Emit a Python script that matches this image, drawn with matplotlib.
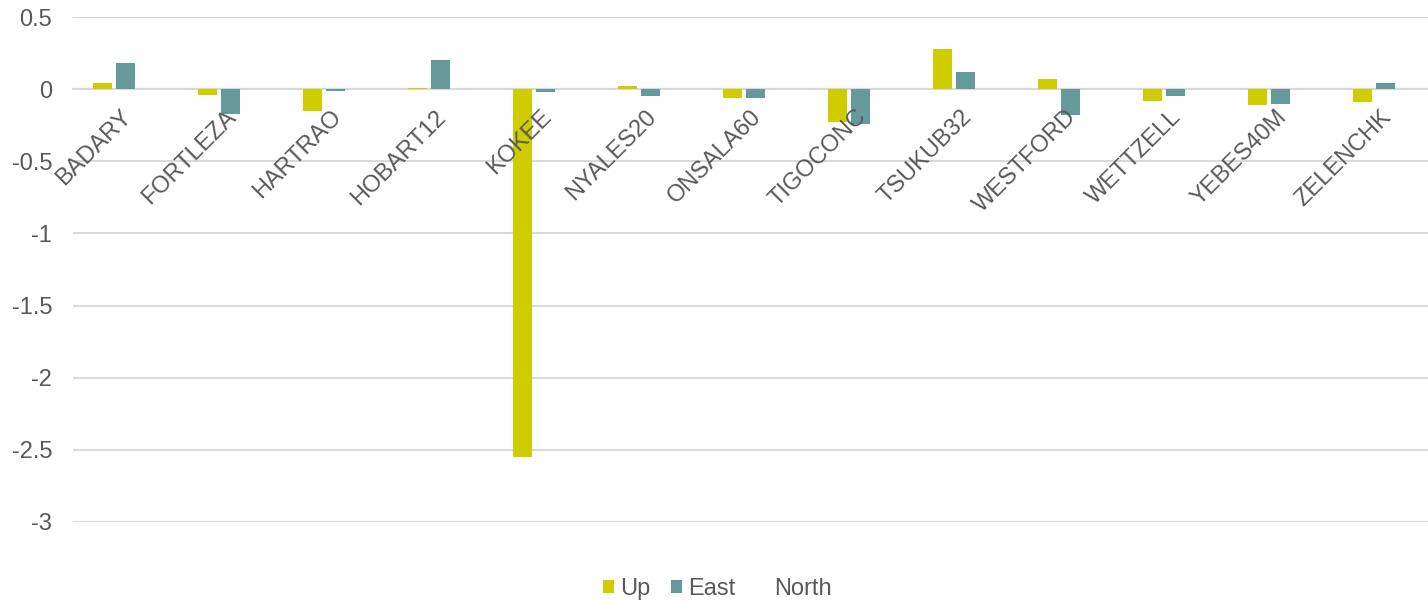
import numpy as np
import matplotlib
matplotlib.use("Agg")
import matplotlib.pyplot as plt

stations = ["BADARY", "FORTLEZA", "HARTRAO", "HOBART12", "KOKEE", "NYALES20",
            "ONSALA60", "TIGOCONC", "TSUKUB32", "WESTFORD", "WETTZELL",
            "YEBES40M", "ZELENCHK"]
up = [0.04, -0.04, -0.15, 0.01, -2.55, 0.02, -0.06, -0.23, 0.28, 0.07, -0.08, -0.11, -0.09]
east = [0.18, -0.17, -0.01, 0.205, -0.02, -0.05, -0.06, -0.24, 0.12, -0.18, -0.05, -0.10, 0.04]
north = [0, 0, 0, 0, 0, 0, 0, 0, 0, 0, 0, 0, 0]
yticks = [0.5, 0, -0.5, -1, -1.5, -2, -2.5, -3]
ytick_labels = ["0.5", "0", "-0.5", "-1", "-1.5", "-2", "-2.5", "-3"]

plt.rcParams["font.family"] = ["Liberation Sans", "DejaVu Sans"]
text_color = "#595959"
grid_color = "#D9D9D9"
fs = 17

fig = plt.figure(figsize=(14.28, 6.03), dpi=100)
ax = fig.add_axes([73 / 1428, 1 - 522 / 603, 1365 / 1428, (522 - 17) / 603])

x = np.arange(len(stations))
w = 0.176
step = 0.219
ax.bar(x - step, up, w, color="#CFCD00", label="Up", zorder=3)
ax.bar(x, east, w, color="#669999", label="East", zorder=3)
ax.bar(x + step, north, w, color="none", label="North", zorder=3)

ax.set_xlim(-0.5, len(stations) - 0.5)
ax.set_ylim(-3, 0.5)
ax.set_yticks(yticks)
ax.set_yticklabels(ytick_labels)
ax.yaxis.grid(True, color=grid_color, linewidth=1.5)
ax.yaxis.set_zorder(0.5)
ax.xaxis.set_zorder(4)

for side in ["top", "right", "left"]:
    ax.spines[side].set_visible(False)
ax.spines["bottom"].set_position(("data", 0))
ax.spines["bottom"].set_color(grid_color)
ax.spines["bottom"].set_linewidth(1.5)
ax.spines["bottom"].set_zorder(1)

ax.set_xticks(x - 0.05)
ax.set_xticklabels(stations, rotation=45, ha="right", va="top",
                   rotation_mode="anchor")
ax.tick_params(axis="x", length=0, pad=12, labelsize=fs, labelcolor=text_color)
ax.tick_params(axis="y", length=0, pad=15, labelsize=fs, labelcolor=text_color)

handles, labels = ax.get_legend_handles_labels()
leg = fig.legend(handles, labels, loc="center", bbox_to_anchor=(717 / 1428, 1 - 589 / 603),
                 ncol=3, frameon=False, fontsize=fs, handlelength=0.47,
                 handleheight=0.47, handletextpad=0.25, columnspacing=0.9)
for t in leg.get_texts():
    t.set_color(text_color)

fig.savefig("out.png", dpi=100)
